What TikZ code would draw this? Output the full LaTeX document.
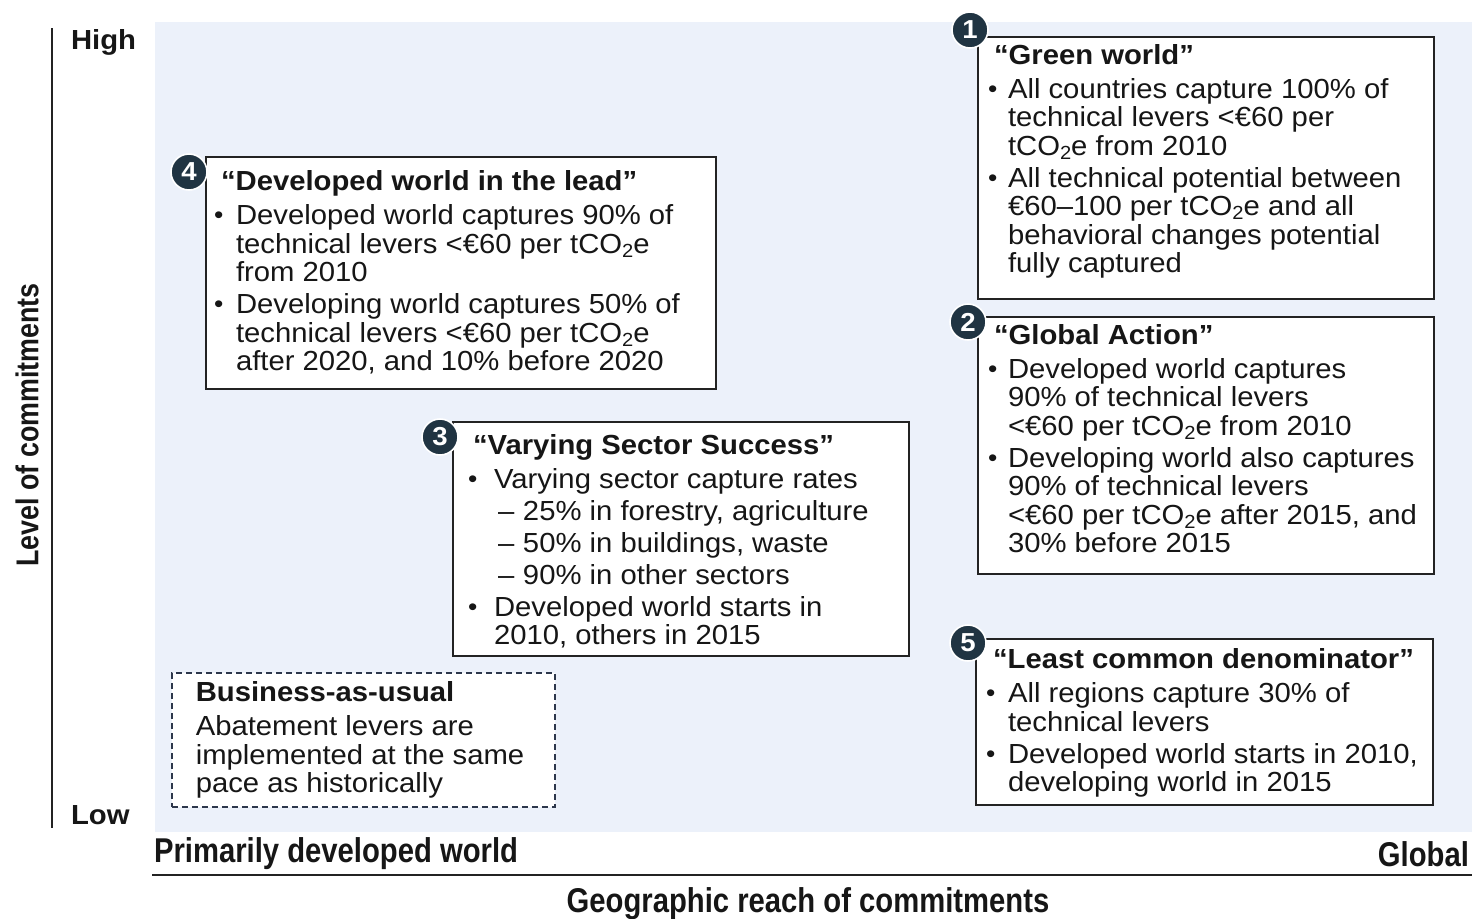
\documentclass[tikz,border=0pt]{standalone}
\usepackage{fontspec}
\setmainfont{Liberation Sans}[FakeStretch=1.06]
\newfontfamily\axisfont{Liberation Sans}[FakeStretch=0.85]
\usetikzlibrary{positioning}

\definecolor{ink}{RGB}{22,22,22}
\definecolor{boxline}{RGB}{35,35,35}
\definecolor{badgefill}{RGB}{32,52,66}
\definecolor{field}{RGB}{236,241,250}
\definecolor{dashline}{RGB}{45,55,75}

\newlength\titind \newlength\bulind \newlength\txtind
% width, height, top gap, title indent, bullet indent, text indent, body
\newcommand\scentext[7]{%
  \parbox[c][#2][t]{#1}{\setlength\titind{#4}\setlength\bulind{#5}\setlength\txtind{#6}%
    \fontsize{13.8}{14.25}\selectfont\raggedright\setlength\parskip{1.75pt}%
    \vspace*{#3}#7}}
\newcommand\scentitle[1]{\noindent\hspace*{\titind}\strut\textbf{#1}\par}
\newcommand\bulletmark{\raisebox{0.05ex}{\fontsize{12.5}{12.5}\selectfont\textbullet}}
\newcommand\itm{\par\hangindent=\txtind\hangafter=1\noindent\makebox[\txtind][l]{\hspace*{\bulind}\bulletmark}}
\newcommand\subitm{\par\hangindent=35pt\hangafter=1\noindent\makebox[35pt][l]{\hspace*{22.5pt}–}}
\newcommand\plainline{\par\hangindent=\titind\hangafter=0\noindent}
\newcommand\nl{\newline}
\newcommand\coe{tCO\raisebox{-0.3ex}{\fontsize{9.5}{10}\selectfont 2}e}

\begin{document}
\begin{tikzpicture}[x=0.5pt, y=-0.5pt, text=ink,
    scen/.style={draw=boxline, line width=1pt, fill=white, anchor=north west, inner sep=0pt},
    bau/.style={draw=dashline, line width=0.8pt, dash pattern=on 3pt off 2pt, fill=white, anchor=north west, inner sep=0pt},
    badge/.style={circle, fill=badgefill, draw=white, line width=0.8pt, minimum size=18pt, inner sep=0pt,
      text=white, font=\fontsize{13}{13}\selectfont\bfseries},
    scale label/.style={font=\fontsize{13.8}{14}\selectfont\bfseries},
    axis title/.style={font=\axisfont\fontsize{17.2}{18}\selectfont\bfseries}]
  \useasboundingbox (0,0) rectangle (1477,918);
  \fill[field] (155,22) rectangle (1472,832);

  % axes
  \draw[line width=1pt, boxline] (52,28) -- (52,828);
  \draw[line width=1pt, boxline] (152,875) -- (1472,875);
  \node[scale label, anchor=west] (high) at (64,42) {High};
  \node[scale label, anchor=west] (low) at (64,815) {Low};
  \node[font=\axisfont\fontsize{15.8}{16}\selectfont\bfseries, rotate=90] (yaxis) at (27,425) {Level of commitments};
  \node[axis title, anchor=west] (left) at (147,854) {Primarily developed world};
  \node[axis title, anchor=east] (right) at (1476,854) {Global};
  \node[axis title] (xaxis) at (808,904) {Geographic reach of commitments};

  % scenarios
  \node[scen] (s1) at (977,36) {\scentext{228pt}{131pt}{1.75pt}{8pt}{5pt}{15pt}{%
    \scentitle{“Green world”}
    \itm All countries capture 100\% of\nl technical levers <€60 per\nl \coe{} from 2010
    \itm All technical potential between\nl €60–100 per \coe{} and all\nl behavioral changes potential\nl fully captured\par}};
  \node[scen] (s2) at (977,316) {\scentext{228pt}{128.5pt}{1.75pt}{8pt}{5pt}{15pt}{%
    \scentitle{“Global Action”}
    \itm Developed world captures\nl 90\% of technical levers\nl <€60 per \coe{} from 2010
    \itm Developing world also captures\nl 90\% of technical levers\nl <€60 per \coe{} after 2015, and\nl 30\% before 2015\par}};
  \node[scen] (s3) at (452,421) {\scentext{228pt}{117pt}{4.25pt}{10pt}{7.5pt}{20.5pt}{%
    \scentitle{“Varying Sector Success”}
    \itm Varying sector capture rates
    \subitm 25\% in forestry, agriculture
    \subitm 50\% in buildings, waste
    \subitm 90\% in other sectors
    \itm Developed world starts in\nl 2010, others in 2015\par}};
  \node[scen] (s4) at (205,156) {\scentext{255pt}{116pt}{5pt}{7.5pt}{4pt}{15pt}{%
    \scentitle{“Developed world in the lead”}
    \itm Developed world captures 90\% of\nl technical levers <€60 per \coe\nl from 2010
    \itm Developing world captures 50\% of\nl technical levers <€60 per \coe\nl after 2020, and 10\% before 2020\par}};
  \node[scen] (s5) at (975,638) {\scentext{228.5pt}{83pt}{3pt}{8.5pt}{5pt}{16pt}{%
    \scentitle{“Least common denominator”}
    \itm All regions capture 30\% of\nl technical levers
    \itm Developed world starts in 2010,\nl developing world in 2015\par}};
  \node[bau] (bau) at (171,672) {\scentext{191.5pt}{67pt}{2.75pt}{12pt}{0pt}{12pt}{%
    \scentitle{Business-as-usual}
    \plainline Abatement levers are\nl implemented at the same\nl pace as historically\par}};

  % numbered badges
  \node[badge] (b1) at (970,30) {1};
  \node[badge] (b2) at (968,322) {2};
  \node[badge] (b3) at (440,437) {3};
  \node[badge] (b4) at (189,172) {4};
  \node[badge] (b5) at (968,643) {5};
\end{tikzpicture}
\end{document}
